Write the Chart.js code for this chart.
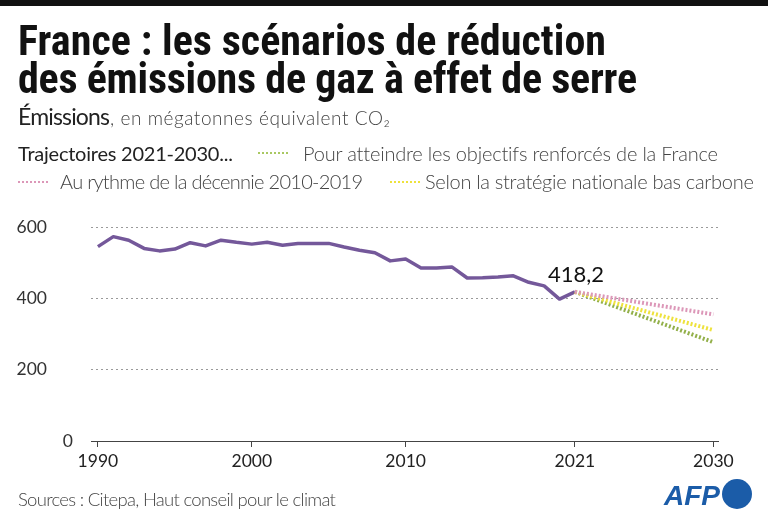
<!DOCTYPE html>
<html><head><meta charset="utf-8">
<script src="https://cdn.jsdelivr.net/npm/chart.js@4/dist/chart.umd.min.js"></script>
<style>
html,body{margin:0;padding:0;background:#fff;}
#wrap{position:relative;width:768px;height:524px;overflow:hidden;font-family:Lato,'Noto Sans',sans-serif;}
#bar{position:absolute;left:0;top:0;width:768px;height:6px;background:#111;}
.t{position:absolute;white-space:nowrap;line-height:1;}
.ttl{font-family:'Liberation Sans Narrow','Roboto Condensed',Roboto,sans-serif;font-size:42px;font-weight:bold;color:#111;}
.lg{font-size:20px;font-weight:300;color:#444;}
.sw{position:absolute;width:32px;height:2px;}
#afp{left:664px;top:482px;font-size:28px;font-weight:bold;font-style:italic;color:#1b5ca8;font-family:'Liberation Sans',Arial,sans-serif;}
#dot{position:absolute;left:722px;top:479px;width:30px;height:30px;border-radius:50%;background:#1b5ca8;}
canvas{position:absolute;left:0;top:0;}
.mk{display:inline-block;width:0;height:0;vertical-align:baseline;}
</style></head>
<body>
<div id="wrap">
<canvas id="c" width="768" height="524"></canvas>
<div id="bar"></div>
<div class="t ttl" data-l="18" data-b="55" data-r="606">France : les scénarios de réduction</div>
<div class="t ttl" data-l="18" data-b="93" data-r="637">des émissions de gaz à effet de serre</div>
<div class="t" data-l="18" data-b="125" data-r="110" style="font-size:23px;color:#222;">Émissions</div>
<div class="t lg" data-l="110" data-b="125" data-r="390" style="font-size:19px;">, en mégatonnes équivalent CO₂</div>
<div class="t lg" data-l="18" data-b="161" data-r="233" style="color:#222;font-weight:400;">Trajectoires 2021-2030...</div>
<div class="sw" id="sw0" style="left:258px;top:152px;"></div>
<div class="t lg" id="lg0" data-l="303" data-b="161" data-r="718"></div>
<div class="sw" id="sw1" style="left:18px;top:181px;"></div>
<div class="t lg" id="lg1" data-l="60" data-b="189" data-r="363"></div>
<div class="sw" id="sw2" style="left:390px;top:181px;"></div>
<div class="t lg" id="lg2" data-l="425" data-b="189" data-r="754"></div>
<div class="t lg" data-l="18" data-b="506" data-r="336" style="font-size:18.5px;">Sources : Citepa, Haut conseil pour le climat</div>
<div class="t" id="afp">AFP</div>
<div id="dot"></div>
</div>
<script>
// ---- data ----
const years = [1990,1991,1992,1993,1994,1995,1996,1997,1998,1999,2000,2001,2002,2003,2004,2005,2006,2007,2008,2009,2010,2011,2012,2013,2014,2015,2016,2017,2018,2019,2020,2021];
const emissions = [545,573,563,540,533,538,556,547,563,557,552,557,549,554,554,554,544,535,528,505,510,485,485,488,457,458,460,463,445,435,398,418.2];
const projYears = [2021,2030];
const projRenforces = [418.2,277];
const projRythme = [418.2,355];
const projSnbc = [418.2,311];
const projNames = ['Pour atteindre les objectifs renforcés de la France','Au rythme de la décennie 2010-2019','Selon la stratégie nationale bas carbone'];
const xTicks = [1990,2000,2010,2021,2030];
const yTicks = [0,200,400,600];

const colPurple = '#74589a';
const projCols = ['#93b04a','#dc97b8','#eee23c'];
const swatchCols = ['#a9c862','#dc97b8','#eee23c'];

function pts(xs, ys){ return xs.map((x,i)=>({x:x,y:ys[i]})); }

[0,1,2].forEach(i=>{
  document.getElementById('lg'+i).textContent = projNames[i];
  document.getElementById('sw'+i).style.background =
    'repeating-linear-gradient(90deg,'+swatchCols[i]+' 0 2px,transparent 2px 4px)';
});

// place texts: left edge, baseline, right edge
const wr = document.getElementById('wrap').getBoundingClientRect();
document.querySelectorAll('[data-b]').forEach(el=>{
  const L=+el.dataset.l, B=+el.dataset.b, R=+el.dataset.r;
  el.style.left = L+'px'; el.style.top='0px';
  const n = el.textContent.length;
  const w0 = el.getBoundingClientRect().width;
  const ls = (R-L-w0)/Math.max(1,n-1);
  el.style.letterSpacing = ls.toFixed(2)+'px';
  const mk = document.createElement('span'); mk.className='mk'; el.appendChild(mk);
  const base = mk.getBoundingClientRect().bottom - wr.top;
  el.style.top = (B-base)+'px';
});

const labelPlugin = {
  id:'extraLabels',
  afterDatasetsDraw(chart){
    const {ctx, scales:{x,y}} = chart;
    const v = emissions[emissions.length-1];
    const px = x.getPixelForValue(years[years.length-1]);
    const py = y.getPixelForValue(v);
    ctx.save();
    ctx.font = '22px Lato, sans-serif';
    ctx.fillStyle = '#111';
    ctx.textAlign = 'center';
    ctx.textBaseline = 'alphabetic';
    ctx.fillText(v.toLocaleString('fr-FR'), px+1, py-10);
    // zero label of the y axis sits closer to the axis
    ctx.font = '17.5px Lato, sans-serif';
    ctx.fillStyle = '#333';
    ctx.textAlign = 'right';
    ctx.textBaseline = 'middle';
    ctx.fillText(String(yTicks[0]), chart.chartArea.left - 18, y.getPixelForValue(yTicks[0]));
    ctx.restore();
  }
};

const dotted = (data,col)=>({data:data,borderColor:col,borderWidth:4,borderDash:[2,2],pointRadius:0,fill:false,tension:0});

new Chart(document.getElementById('c'),{
  type:'line',
  data:{datasets:[
    dotted(pts(projYears,projRythme),projCols[1]),
    dotted(pts(projYears,projSnbc),projCols[2]),
    dotted(pts(projYears,projRenforces),projCols[0]),
    {data:pts(years,emissions),borderColor:colPurple,borderWidth:3.5,pointRadius:0,tension:0,borderJoinStyle:'round'}
  ]},
  options:{
    responsive:false,animation:false,
    layout:{padding:{left:0,right:50,top:227,bottom:43}},
    plugins:{legend:{display:false},tooltip:{enabled:false}},
    scales:{
      x:{type:'linear',min:1989.55,max:2030.3,
        afterFit(s){s.height=40;},
        afterBuildTicks(s){s.ticks = xTicks.map(v=>({value:v}));},
        grid:{drawOnChartArea:false,drawTicks:true,tickLength:6,color:'#444'},
        border:{display:true,color:'#444',width:1},
        ticks:{callback:v=>String(v),color:'#222',font:{family:'Lato, sans-serif',size:17.5},padding:4,maxRotation:0,autoSkip:false}
      },
      y:{type:'linear',min:0,max:600,
        afterFit(s){s.width=91;},
        afterBuildTicks(s){s.ticks = yTicks.map(v=>({value:v}));},
        grid:{drawTicks:false,color:c=>c.tick && c.tick.value===0?'rgba(0,0,0,0)':'#9a9a9a',lineWidth:1},
        border:{display:false,dash:[2,3]},
        ticks:{callback:v=>v===0?'':String(v),color:'#333',font:{family:'Lato, sans-serif',size:17.5},padding:44}
      }
    }
  },
  plugins:[labelPlugin]
});
</script>
</body></html>
